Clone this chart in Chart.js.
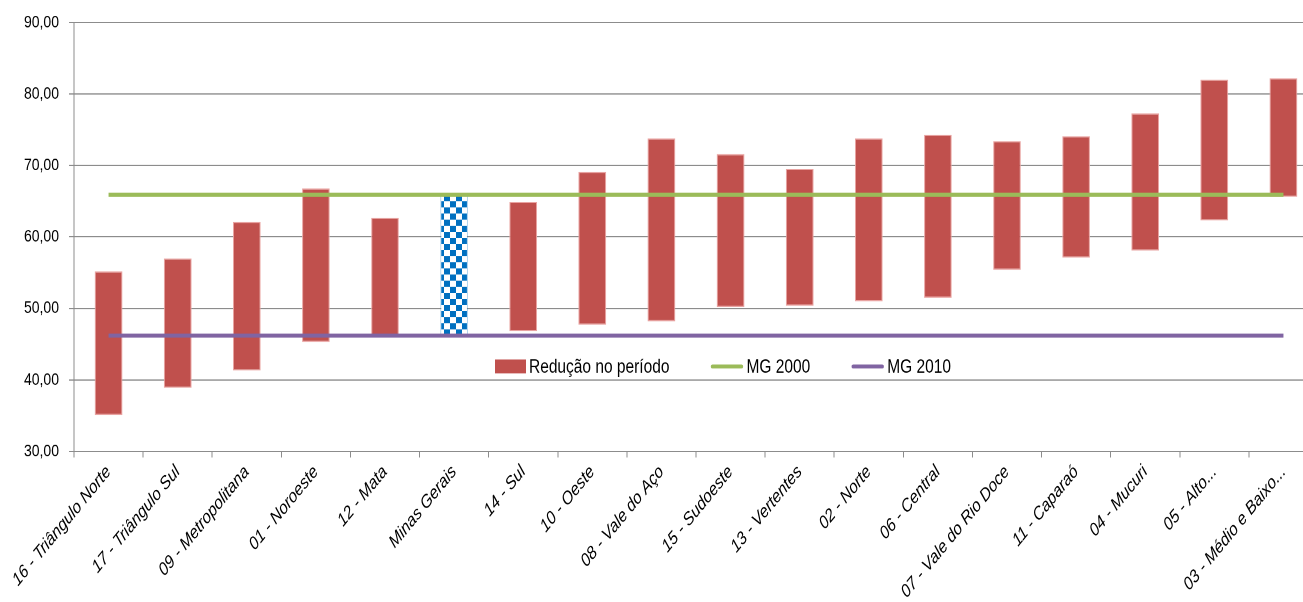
<!DOCTYPE html>
<html>
<head>
<meta charset="utf-8">
<script src="https://cdn.jsdelivr.net/npm/chart.js@4.4.0/dist/chart.umd.min.js"></script>
<style>
  html { overflow: hidden; }
  body { margin: 0; padding: 0; background: #fff; width: 1303px; height: 602px; }
  /* the exported chart is stretched vertically */
  #wrap { width: 1318px; height: 494px; transform: scaleY(1.22); transform-origin: 0 0; }
</style>
</head>
<body>
<div id="wrap"><canvas id="barCanvas" width="1318" height="494"></canvas></div>
<script>
const regions = [
    "16 - Triângulo Norte", "17 - Triângulo Sul", "09 - Metropolitana", "01 - Noroeste",
    "12 - Mata", "Minas Gerais", "14 - Sul", "10 - Oeste", "08 - Vale do Aço",
    "15 - Sudoeste", "13 - Vertentes", "02 - Norte", "06 - Central",
    "07 - Vale do Rio Doce", "11 - Caparaó", "04 - Mucuri", "05 - Alto...",
    "03 - Médio e Baixo..."
];
// top of each bar (2000) and bottom (2010)
const taxa2000 = [55.2, 57.0, 62.1, 66.8, 62.7, 65.9, 64.9, 69.1, 73.8, 71.6, 69.5, 73.8, 74.3, 73.4, 74.1, 77.3, 82.0, 82.2];
const taxa2010 = [35.1, 38.9, 41.3, 45.3, 46.0, 46.2, 46.8, 47.7, 48.2, 50.2, 50.4, 51.0, 51.5, 55.4, 57.1, 58.1, 62.3, 65.6];
const mg2000 = 65.9;
const mg2010 = 46.2;
const stateLabel = "Minas Gerais";

const RED = "#C0504D";
const RED_EDGE = "#E9A3A1";
const GREEN = "#9BBB59";
const PURPLE = "#8064A2";
const BLUE = "#0070C0";
const FONT = "'Liberation Sans', Arial, sans-serif";

// blue / white checkerboard for the state bar
const makeChecker = () => {
    const c = document.createElement("canvas");
    c.width = 24;
    c.height = 20;
    const g = c.getContext("2d");
    g.fillStyle = "#fff";
    g.fillRect(0, 0, 24, 20);
    g.fillStyle = BLUE;
    g.fillRect(0, 0, 12, 10);
    g.fillRect(12, 10, 12, 10);
    const p = g.createPattern(c, "repeat");
    p.setTransform(new DOMMatrix().scale(0.5, 0.5));
    return p;
};
const checker = makeChecker();

const barFill = regions.map(r => r === stateLabel ? checker : RED);
const barEdge = regions.map(r => r === stateLabel ? "rgba(0,112,192,0.35)" : RED_EDGE);

const legendItems = [
    { text: "Redução no período", type: "box", color: RED },
    { text: "MG 2000", type: "line", color: GREEN },
    { text: "MG 2010", type: "line", color: PURPLE }
];

// legend sits inside the plot area, below the MG 2010 line
const innerLegend = {
    id: "innerLegend",
    afterDraw(chart) {
        const {ctx, chartArea} = chart;
        const y = chartArea.top + (chartArea.bottom - chartArea.top) * 0.802;
        let x = chartArea.left + 421;
        ctx.save();
        ctx.font = "15.5px " + FONT;
        ctx.textBaseline = "middle";
        ctx.textAlign = "left";
        legendItems.forEach(item => {
            if (item.type === "box") {
                ctx.fillStyle = item.color;
                ctx.fillRect(x, y - 5.7, 31, 11.4);
                x += 34;
            } else {
                ctx.strokeStyle = item.color;
                ctx.lineWidth = 3.3;
                ctx.lineCap = "round";
                ctx.beginPath();
                ctx.moveTo(x + 2, y);
                ctx.lineTo(x + 31, y);
                ctx.stroke();
                x += 36;
            }
            ctx.fillStyle = "#000";
            ctx.fillText(item.text, x, y + 1);
            x += ctx.measureText(item.text).width + 41;
        });
        ctx.restore();
    }
};

const barChart = new Chart(document.getElementById("barCanvas"), {
    type: "bar",
    data: {
        labels: regions,
        datasets: [
            {
                label: "Redução no período",
                data: regions.map((r, i) => [taxa2010[i], taxa2000[i]]),
                backgroundColor: barFill,
                borderColor: barEdge,
                borderWidth: 1,
                borderSkipped: false,
                barPercentage: 0.4,
                categoryPercentage: 1,
                order: 2
            },
            {
                type: "line",
                label: "MG 2000",
                data: regions.map(() => mg2000),
                borderColor: GREEN,
                borderWidth: 3.4,
                pointRadius: 0,
                order: 1
            },
            {
                type: "line",
                label: "MG 2010",
                data: regions.map(() => mg2010),
                borderColor: PURPLE,
                borderWidth: 3.4,
                pointRadius: 0,
                order: 0
            }
        ]
    },
    options: {
        responsive: false,
        animation: false,
        devicePixelRatio: 2,
        layout: {
            padding: { top: 18, left: 0, right: 0, bottom: 0 }
        },
        scales: {
            x: {
                grid: {
                    offset: true,
                    drawOnChartArea: false,
                    drawTicks: true,
                    tickLength: 5,
                    color: "#8c8c8c"
                },
                border: { color: "#8c8c8c" },
                ticks: {
                    minRotation: 45,
                    maxRotation: 45,
                    autoSkip: false,
                    padding: 3,
                    color: "#000",
                    font: { family: FONT, size: 15, style: "italic" }
                },
                afterFit(scale) {
                    scale.height = 124;
                }
            },
            y: {
                min: 30,
                max: 90,
                grid: {
                    color: "#8c8c8c",
                    tickLength: 5
                },
                border: { color: "#8c8c8c" },
                ticks: {
                    stepSize: 10,
                    padding: 10,
                    color: "#000",
                    font: { family: FONT, size: 14 },
                    callback: v => v.toFixed(2).replace(".", ",")
                },
                afterFit(scale) {
                    scale.width = 74;
                }
            }
        },
        plugins: {
            legend: { display: false },
            tooltip: { enabled: false }
        }
    },
    plugins: [innerLegend]
});
</script>
</body>
</html>
